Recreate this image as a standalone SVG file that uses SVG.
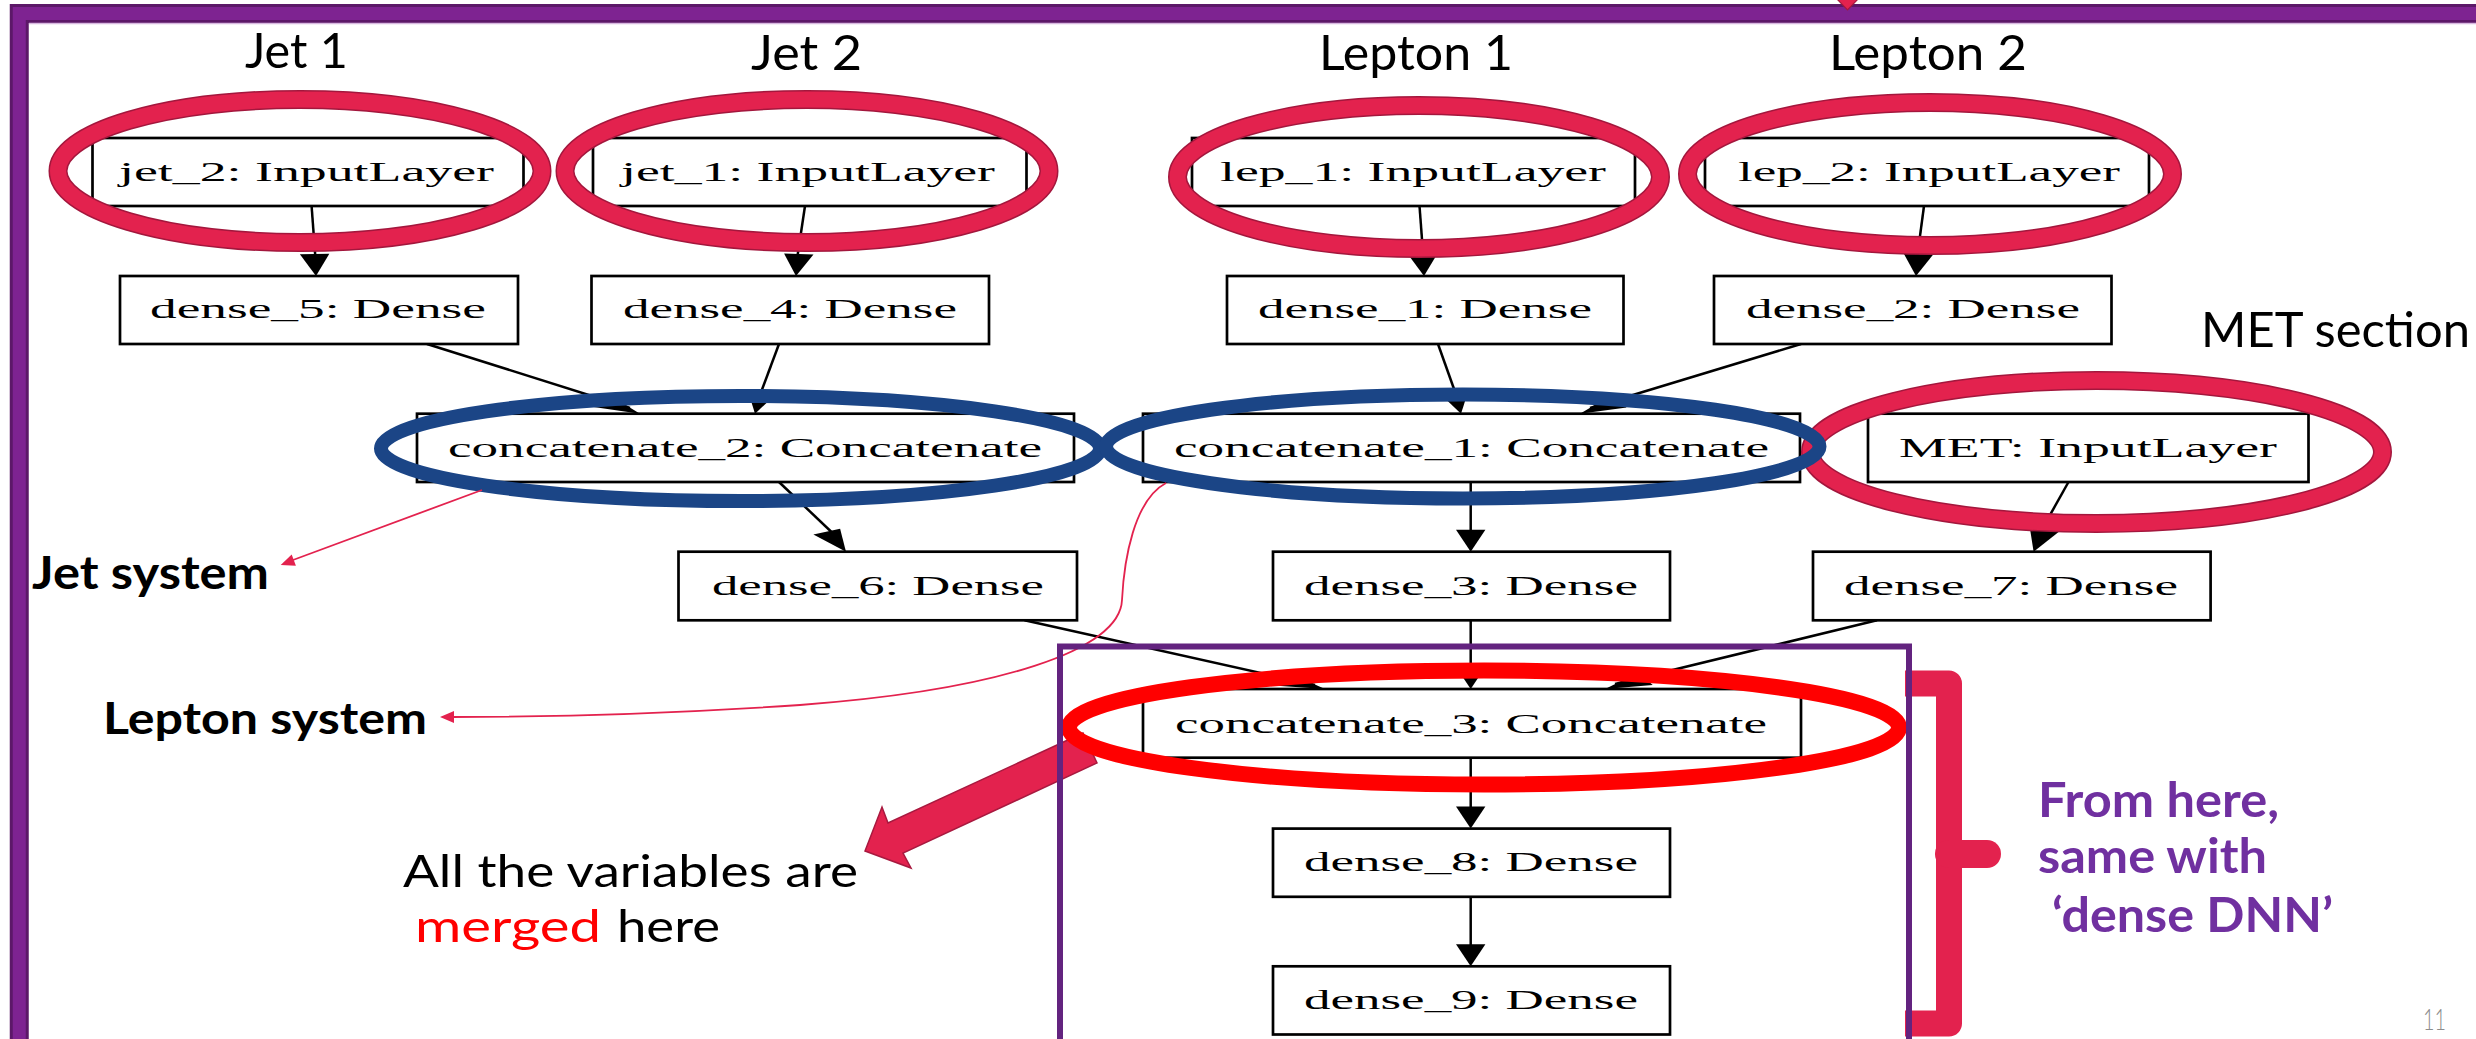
<svg xmlns="http://www.w3.org/2000/svg" width="2476" height="1039" viewBox="0 0 2476 1039">
<style>
.box{fill:#fff;stroke:#000;stroke-width:2.7}
.lbl{font-family:'Liberation Serif','Times New Roman',serif;font-size:28px;fill:#000}
.edge{stroke:#000;stroke-width:2.5;fill:none}
.ah{fill:#000;stroke:none}
.ann{font-family:Lato,'Open Sans',sans-serif;fill:#000}
.bold{font-weight:700}
.rring-o{fill:none;stroke:#A3173D;stroke-width:19}
.rring{fill:none;stroke:#E3224E;stroke-width:16}
.bring{fill:none;stroke:#1B4586;stroke-width:14}
.thin{stroke:#E3224E;stroke-width:1.8;fill:none}
</style>
<rect width="2476" height="1039" fill="#fff"/>
<!-- outer slide frame -->
<g id="frame">
<rect x="19.25" y="13.5" width="2500" height="1100" fill="none" stroke="#5C1868" stroke-width="19"/>
<rect x="19.25" y="13.5" width="2500" height="1100" fill="none" stroke="#7E2391" stroke-width="13"/>
<line x1="29" y1="23.5" x2="2476" y2="23.5" stroke="#D8B8E0" stroke-width="1.5"/>
<polygon points="1836,-2 1859,-2 1847.5,10" fill="#E3224E" stroke="#A3173D" stroke-width="1.2"/>
</g>

<!-- section headers -->
<g id="headers" class="ann" font-size="48">
<text x="245" y="68" textLength="103" lengthAdjust="spacingAndGlyphs">Jet 1</text>
<text x="751" y="70" textLength="111" lengthAdjust="spacingAndGlyphs">Jet 2</text>
<text x="1319" y="70" textLength="194" lengthAdjust="spacingAndGlyphs">Lepton 1</text>
<text x="1829" y="70" textLength="198" lengthAdjust="spacingAndGlyphs">Lepton 2</text>
<text x="2201" y="347" textLength="269" lengthAdjust="spacingAndGlyphs">MET section</text>
</g>

<!-- connectors -->
<g id="connectors">
<line class="edge" x1="311.6" y1="206" x2="316" y2="266"/>
<polygon class="ah" points="316,276 299.9,254.2 329.3,253.8"/>
<line class="edge" x1="805" y1="206" x2="796" y2="266"/>
<polygon class="ah" points="796,276 784.1,253.6 813.5,254.5"/>
<line class="edge" x1="1419.5" y1="206" x2="1424" y2="266"/>
<polygon class="ah" points="1424,276 1407.9,254.2 1437.3,253.8"/>
<line class="edge" x1="1924" y1="206" x2="1916" y2="266"/>
<polygon class="ah" points="1916,276 1903.8,253.65 1933.2,254.4"/>

<line class="edge" x1="427" y1="344" x2="630" y2="408"/>
<polygon class="ah" points="640,413.7 593.7,407 610.3,395.5"/>
<line class="edge" x1="779" y1="344" x2="757" y2="403"/>
<polygon class="ah" points="755,413.7 748,390.9 777,393.1"/>
<line class="edge" x1="1438" y1="344" x2="1459" y2="403"/>
<polygon class="ah" points="1461,413.7 1439.3,393.1 1468.3,390.9"/>
<line class="edge" x1="1801" y1="344" x2="1590" y2="408"/>
<polygon class="ah" points="1580,413.7 1610.4,395.7 1626.6,407.4"/>

<line class="edge" x1="779" y1="482" x2="842" y2="542"/>
<polygon class="ah" points="846,551.7 813.4,534.6 840.1,528.8"/>
<line class="edge" x1="1470.7" y1="482" x2="1470.7" y2="540"/>
<polygon class="ah" points="1470.7,551.7 1456,529.7 1485.4,529.7"/>
<line class="edge" x1="2068.5" y1="482" x2="2036" y2="540"/>
<polygon class="ah" points="2033.6,551.7 2030,528.7 2058.6,531.9"/>

<line class="edge" x1="1024.5" y1="620.3" x2="1315" y2="685"/>
<polygon class="ah" points="1325,689 1277,685.8 1289.7,673.2"/>
<line class="edge" x1="1470.7" y1="620.3" x2="1470.7" y2="678"/>
<polygon class="ah" points="1470.7,689 1456,667 1485.4,667"/>
<line class="edge" x1="1877" y1="620.3" x2="1615" y2="684"/>
<polygon class="ah" points="1605,689 1638.9,672.5 1652.7,684.9"/>

<line class="edge" x1="1470.7" y1="757.7" x2="1470.7" y2="818"/>
<polygon class="ah" points="1470.7,828.6 1456,806.6 1485.4,806.6"/>
<line class="edge" x1="1470.7" y1="896.8" x2="1470.7" y2="955"/>
<polygon class="ah" points="1470.7,966.3 1456,944.3 1485.4,944.3"/>
</g>

<!-- nodes -->
<g id="jet_2"><rect class="box" x="92.5" y="138" width="431" height="68"/><text class="lbl" x="119" y="180.5" textLength="375" lengthAdjust="spacingAndGlyphs">jet_2: InputLayer</text></g>
<g id="jet_1"><rect class="box" x="593" y="138" width="433.5" height="68"/><text class="lbl" x="621" y="180.5" textLength="374" lengthAdjust="spacingAndGlyphs">jet_1: InputLayer</text></g>
<g id="lep_1"><rect class="box" x="1192" y="138" width="443" height="68"/><text class="lbl" x="1220" y="180.5" textLength="386" lengthAdjust="spacingAndGlyphs">lep_1: InputLayer</text></g>
<g id="lep_2"><rect class="box" x="1705" y="138" width="444" height="68"/><text class="lbl" x="1738" y="180.5" textLength="382" lengthAdjust="spacingAndGlyphs">lep_2: InputLayer</text></g>
<g id="dense_5"><rect class="box" x="120" y="276" width="398" height="68"/><text class="lbl" x="150" y="318" textLength="336" lengthAdjust="spacingAndGlyphs">dense_5: Dense</text></g>
<g id="dense_4"><rect class="box" x="591.5" y="276" width="397.5" height="68"/><text class="lbl" x="623" y="318" textLength="334" lengthAdjust="spacingAndGlyphs">dense_4: Dense</text></g>
<g id="dense_1"><rect class="box" x="1227" y="276" width="396.5" height="68"/><text class="lbl" x="1258" y="318" textLength="334" lengthAdjust="spacingAndGlyphs">dense_1: Dense</text></g>
<g id="dense_2"><rect class="box" x="1714" y="276" width="397.5" height="68"/><text class="lbl" x="1746" y="318" textLength="334" lengthAdjust="spacingAndGlyphs">dense_2: Dense</text></g>
<g id="concatenate_2"><rect class="box" x="417" y="413.7" width="657" height="68.3"/><text class="lbl" x="448" y="456.6" textLength="594" lengthAdjust="spacingAndGlyphs">concatenate_2: Concatenate</text></g>
<g id="concatenate_1"><rect class="box" x="1143" y="413.7" width="657" height="68.3"/><text class="lbl" x="1174" y="456.6" textLength="595" lengthAdjust="spacingAndGlyphs">concatenate_1: Concatenate</text></g>
<g id="MET"><rect class="box" x="1868" y="413.7" width="440.5" height="68.3"/><text class="lbl" x="1899" y="456.6" textLength="378" lengthAdjust="spacingAndGlyphs">MET: InputLayer</text></g>
<g id="dense_6"><rect class="box" x="678.5" y="551.7" width="398.5" height="68.6"/><text class="lbl" x="712" y="594.6" textLength="332" lengthAdjust="spacingAndGlyphs">dense_6: Dense</text></g>
<g id="dense_3"><rect class="box" x="1273" y="551.7" width="397" height="68.6"/><text class="lbl" x="1304" y="594.6" textLength="334" lengthAdjust="spacingAndGlyphs">dense_3: Dense</text></g>
<g id="dense_7"><rect class="box" x="1813" y="551.7" width="397.6" height="68.6"/><text class="lbl" x="1844" y="594.6" textLength="334" lengthAdjust="spacingAndGlyphs">dense_7: Dense</text></g>
<g id="concatenate_3"><rect class="box" x="1143" y="689" width="658" height="68.7"/><text class="lbl" x="1175" y="733" textLength="592" lengthAdjust="spacingAndGlyphs">concatenate_3: Concatenate</text></g>
<g id="dense_8"><rect class="box" x="1273" y="828.6" width="397" height="68.2"/><text class="lbl" x="1304" y="871" textLength="334" lengthAdjust="spacingAndGlyphs">dense_8: Dense</text></g>
<g id="dense_9"><rect class="box" x="1273" y="966.3" width="397" height="68.2"/><text class="lbl" x="1304" y="1009" textLength="334" lengthAdjust="spacingAndGlyphs">dense_9: Dense</text></g>

<!-- highlight rings -->
<g id="rings">
<ellipse class="rring-o" cx="300" cy="171" rx="242" ry="71.5"/><ellipse class="rring" cx="300" cy="171" rx="242" ry="71.5"/>
<ellipse class="rring-o" cx="807" cy="171" rx="242" ry="71.5"/><ellipse class="rring" cx="807" cy="171" rx="242" ry="71.5"/>
<ellipse class="rring-o" cx="1419" cy="177" rx="241.5" ry="71.5"/><ellipse class="rring" cx="1419" cy="177" rx="241.5" ry="71.5"/>
<ellipse class="rring-o" cx="1930" cy="174" rx="242.5" ry="71.5"/><ellipse class="rring" cx="1930" cy="174" rx="242.5" ry="71.5"/>
<ellipse class="rring-o" cx="2096.5" cy="452" rx="286" ry="71.5"/><ellipse class="rring" cx="2096.5" cy="452" rx="286" ry="71.5"/>
<ellipse class="bring" cx="740.5" cy="448.5" rx="359.5" ry="52.5"/>
<ellipse class="bring" cx="1462.8" cy="446.5" rx="356.7" ry="52"/>
</g>

<!-- annotations -->
<g id="jet_system">
<text class="ann bold" x="32" y="589" font-size="45" textLength="237" lengthAdjust="spacingAndGlyphs">Jet system</text>
<line class="thin" x1="482" y1="490" x2="293" y2="560"/>
<polygon points="280.7,565 291.7,554.5 295.9,565.7" fill="#E3224E"/>
</g>
<g id="lepton_system">
<text class="ann bold" x="103" y="733.5" font-size="44" textLength="324" lengthAdjust="spacingAndGlyphs">Lepton system</text>
<path class="thin" d="M1166,483 C1134,500 1124,560 1122,600 C1120,650 1000,690 800,705 C650,715 520,717 452,717"/>
<polygon points="440,717 454,711 454,723" fill="#E3224E"/>
</g>
<g id="merge_note">
<polygon points="1083,733 888,823 882,807 865,851 911,868 903,853 1097,763" fill="#E3224E" stroke="#A8193F" stroke-width="1.5"/>
<text class="ann" x="403" y="887" font-size="44" textLength="455" lengthAdjust="spacingAndGlyphs">All the variables are</text>
<text class="ann" x="415" y="942" font-size="44"><tspan fill="#FF0000" textLength="186" lengthAdjust="spacingAndGlyphs">merged</tspan><tspan x="617" textLength="103" lengthAdjust="spacingAndGlyphs">here</tspan></text>
</g>
<g id="concat3_ring">
<ellipse cx="1484" cy="727.6" rx="415" ry="57" fill="none" stroke="#FF0000" stroke-width="16"/>
</g>
<g id="bracket">
<path d="M1905,683.5 H1949 V1023.5 H1905" fill="none" stroke="#E3224E" stroke-width="26" stroke-linejoin="round"/>
<path d="M1949,854 H1987" fill="none" stroke="#E3224E" stroke-width="28" stroke-linecap="round"/>
</g>
<g id="dense_dnn_box">
<rect x="1060" y="646.5" width="849" height="420" fill="none" stroke="#63237F" stroke-width="6"/>
</g>
<g id="dense_dnn_note" class="ann bold" fill="#7030A0" font-size="47">
<text x="2038" y="816.7" fill="#7030A0" textLength="241" lengthAdjust="spacingAndGlyphs">From here,</text>
<text x="2038" y="872.7" fill="#7030A0" textLength="229" lengthAdjust="spacingAndGlyphs">same with</text>
<text x="2052" y="931.7" fill="#7030A0" textLength="281" lengthAdjust="spacingAndGlyphs">‘dense DNN’</text>
</g>
<text id="page" x="2423" y="1030" font-family="Lato,'Open Sans',sans-serif" font-size="29" font-weight="300" fill="#8C8C8C" textLength="23" lengthAdjust="spacingAndGlyphs">11</text>
</svg>
